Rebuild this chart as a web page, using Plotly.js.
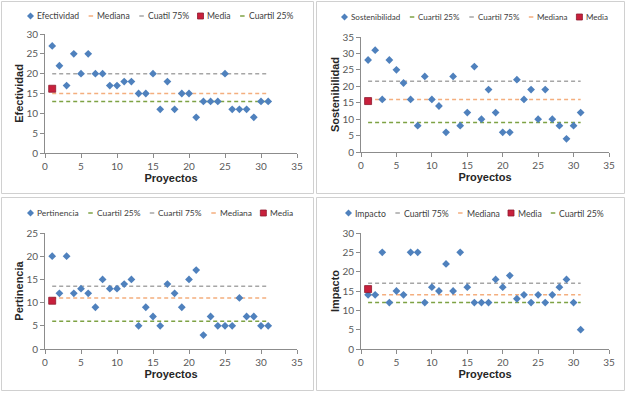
<!DOCTYPE html>
<html><head><meta charset="utf-8">
<script src="https://cdn.plot.ly/plotly-3.0.1.min.js"></script>
<style>html,body{margin:0;padding:0;background:#fff}#chart{width:627px;height:395px}</style>
</head><body><div id="chart"></div>
<script>
// ---------- DATA ----------
const proyectos = [1,2,3,4,5,6,7,8,9,10,11,12,13,14,15,16,17,18,19,20,21,22,23,24,25,26,27,28,29,30,31];
const efectividad    = [27,22,17,25,20,25,20,20,17,17,18,18,15,15,20,11,18,11,15,15,9,13,13,13,20,11,11,11,9,13,13];
const sostenibilidad = [28,31,16,28,25,21,16,8,23,16,14,6,23,8,12,26,10,19,12,6,6,22,16,19,10,19,10,8,4,8,12];
const pertinencia    = [20,12,20,12,13,12,9,15,13,13,14,15,5,9,7,5,14,12,9,15,17,3,7,5,5,5,11,7,7,5,5];
const impacto        = [14,14,25,12,15,14,25,25,12,16,15,22,15,25,16,12,12,12,18,16,19,13,14,12,14,12,14,16,18,12,5];
// [media, mediana, cuartil 25%, cuartil 75%]
const efectividadStats    = [16.2, 15, 13, 20];
const sostenibilidadStats = [15.5, 16, 9, 21.5];
const pertinenciaStats    = [10.4, 11, 6, 13.5];
const impactoStats        = [15.5, 14, 12, 17];
// legend entries in the order shown
const efectividadLegend    = ["Efectividad","Mediana","Cuatil 75%","Media","Cuartil 25%"];
const sostenibilidadLegend = ["Sostenibilidad","Cuartil 25%","Cuartil 75%","Mediana","Media"];
const pertinenciaLegend    = ["Pertinencia","Cuartil 25%","Cuartil 75%","Mediana","Media"];
const impactoLegend        = ["Impacto","Cuartil 75%","Mediana","Media","Cuartil 25%"];
const efectividadKinds    = ["pts","med","q75","mean","q25"];
const sostenibilidadKinds = ["pts","q25","q75","med","mean"];
const pertinenciaKinds    = ["pts","q25","q75","med","mean"];
const impactoKinds        = ["pts","q75","med","mean","q25"];
const xTitle = "Proyectos";

// ---------- STYLE / LAYOUT ----------
const W = 627, H = 395;
const C = {pts:'#4F81BD', mean:'#C8203C', meanLine:'#8E1B2E', q75:'#A6A6A6', med:'#F4AE7E', q25:'#7EA244'};
const FONT = 'Lato, "Liberation Sans", sans-serif';
const TITLEFONT = '"Liberation Sans", Arial, sans-serif';
const fx = px => px / W, fy = py => 1 - py / H;

const panels = [
  {name:'Efectividad', vals:efectividad, stats:efectividadStats, legend:efectividadLegend, kinds:efectividadKinds,
   ymax:30, dom:[45,297,34,153], box:[1.5,313.5,1.5,193.5], leg:[27,292,16]},
  {name:'Sostenibilidad', vals:sostenibilidad, stats:sostenibilidadStats, legend:sostenibilidadLegend, kinds:sostenibilidadKinds,
   ymax:35, dom:[361,609,37,152], box:[316.5,624.5,1.5,193.5], leg:[341,607,17]},
  {name:'Pertinencia', vals:pertinencia, stats:pertinenciaStats, legend:pertinenciaLegend, kinds:pertinenciaKinds,
   ymax:25, dom:[45,297,233,349], box:[1.5,313.5,197.5,390.5], leg:[27,292,213]},
  {name:'Impacto', vals:impacto, stats:impactoStats, legend:impactoLegend, kinds:impactoKinds,
   ymax:30, dom:[361,609,233,349], box:[316.5,624.5,197.5,390.5], leg:[345,603,213]}
];

const traces = [], shapes = [], annotations = [];
const layout = {
  width: W, height: H, margin:{l:0,r:0,t:0,b:0},
  paper_bgcolor:'#fff', plot_bgcolor:'#fff', showlegend:false,
  font:{family:FONT, size:10, color:'#595959'}
};

const canvas = document.createElement('canvas');
const ctx = canvas.getContext('2d');
ctx.font = '10px Lato';

function legendSymbol(kind, x, cy) {
  if (kind === 'pts') {
    const r = 3.5;
    shapes.push({type:'path', xref:'paper', yref:'paper',
      path:`M${fx(x)},${fy(cy)} L${fx(x+r)},${fy(cy-r)} L${fx(x+2*r)},${fy(cy)} L${fx(x+r)},${fy(cy+r)} Z`,
      fillcolor:C.pts, line:{width:0}});
  } else if (kind === 'mean') {
    shapes.push({type:'rect', xref:'paper', yref:'paper', x0:fx(x+0.5), x1:fx(x+6.5), y0:fy(cy+3), y1:fy(cy-3),
      fillcolor:C.mean, line:{color:C.meanLine, width:0.8}});
  } else {
    shapes.push({type:'line', xref:'paper', yref:'paper', x0:fx(x+1.5), x1:fx(x+6), y0:fy(cy), y1:fy(cy),
      line:{color:C[kind], width:1.5}});
  }
}

panels.forEach((p, i) => {
  const n = i + 1;
  const xa = 'x' + (n === 1 ? '' : n), ya = 'y' + (n === 1 ? '' : n);
  const xk = 'xaxis' + (n === 1 ? '' : n), yk = 'yaxis' + (n === 1 ? '' : n);
  const [media, mediana, q25, q75] = p.stats;
  const x0 = proyectos[0], x1 = proyectos[proyectos.length - 1];
  const lineVals = {q75:q75, med:mediana, q25:q25};
  ['q75','med','q25'].forEach(k => {
    traces.push({x:[x0,x1], y:[lineVals[k], lineVals[k]], xaxis:xa, yaxis:ya, mode:'lines',
      line:{color:C[k], width:1.5, dash:'4px,3px'}, hoverinfo:'skip'});
  });
  traces.push({x:proyectos, y:p.vals, xaxis:xa, yaxis:ya, mode:'markers', name:p.name,
    marker:{symbol:'diamond', size:6, color:C.pts, line:{width:0}}});
  traces.push({x:[x0], y:[media], xaxis:xa, yaxis:ya, mode:'markers', name:'Media',
    marker:{symbol:'square', size:7, color:C.mean, line:{color:C.meanLine, width:0.8}}});

  const [l, r, t, b] = p.dom;
  const axCommon = {showgrid:false, zeroline:false, showline:true, linecolor:'#8C8C8C', linewidth:1,
    ticks:'outside', ticklen:4, tickcolor:'#8C8C8C', tickfont:{family:FONT, size:10, color:'#595959'},
    dtick:5, tick0:0, fixedrange:true};
  layout[xk] = Object.assign({}, axCommon, {domain:[fx(l), fx(r)], range:[0,35], anchor:ya,
    title:{text:'<b>' + xTitle + '</b>', font:{family:TITLEFONT, size:11, color:'#262626'}, standoff:3}});
  layout[yk] = Object.assign({}, axCommon, {domain:[fy(b), fy(t)], range:[0,p.ymax], anchor:xa,
    title:{text:'<b>' + p.name + '</b>', font:{family:TITLEFONT, size:11, color:'#262626'}, standoff:0}});

  const [bx0, bx1, by0, by1] = p.box;
  shapes.push({type:'rect', xref:'paper', yref:'paper', x0:fx(bx0), x1:fx(bx1), y0:fy(by1), y1:fy(by0),
    line:{color:'#D0D0D0', width:1}, fillcolor:'rgba(0,0,0,0)', layer:'below'});

  // legend: fit entries into the span seen in the reference
  const symW = 7, symGap = 2, itemGap = 9;
  const [lx0, lx1, cy] = p.leg;
  const target = lx1 - lx0;
  const w10 = p.legend.map(s => ctx.measureText(s).width);
  const fixed = p.legend.length * (symW + symGap) + itemGap * (p.legend.length - 1);
  const sum10 = w10.reduce((a, w) => a + w, 0);
  const fs = Math.min(10.5, 10 * (target - fixed) / sum10);
  let cx = lx0;
  p.legend.forEach((label, j) => {
    legendSymbol(p.kinds[j], cx, cy);
    annotations.push({xref:'paper', yref:'paper', x:fx(cx + symW + symGap - 1), y:fy(cy), xanchor:'left', yanchor:'middle',
      text:label, showarrow:false, font:{family:'Lato', size:fs, color:'#404040'}});
    cx += symW + symGap + w10[j] * fs / 10 + itemGap;
  });
});

layout.shapes = shapes;
layout.annotations = annotations;
Plotly.newPlot('chart', traces, layout, {staticPlot:true, displayModeBar:false});
</script>
</body></html>
